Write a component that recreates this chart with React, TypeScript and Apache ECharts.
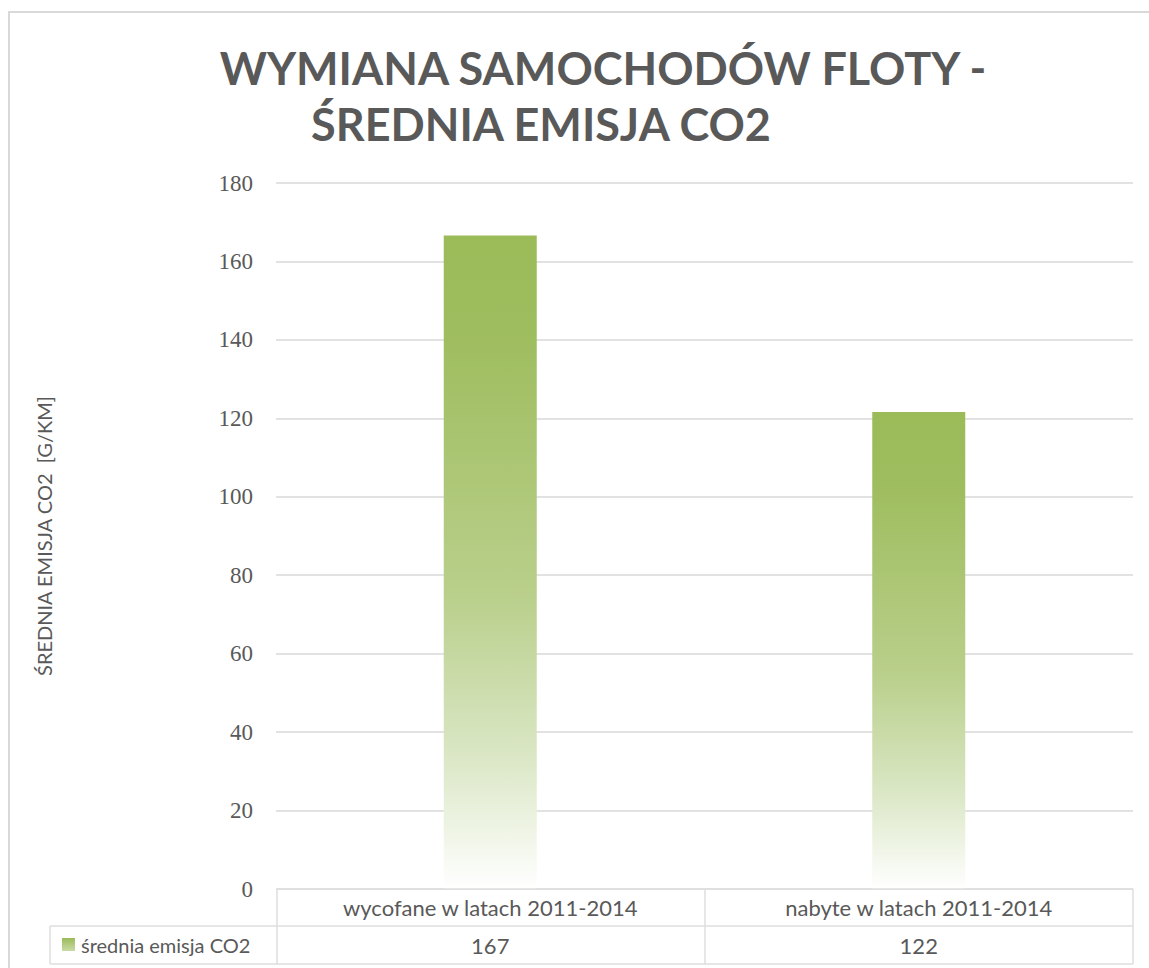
import { useEffect, useRef } from "react";
import * as echarts from "echarts";

const titleLines = ["WYMIANA SAMOCHODÓW FLOTY -", "ŚREDNIA EMISJA CO2"];
const categories = ["wycofane w latach 2011-2014", "nabyte w latach 2011-2014"];
const seriesName = "średnia emisja CO2";
const values = [166.6, 121.6];
const tableValues = ["167", "122"];
const yMin = 0;
const yMax = 180;
const yInterval = 20;
const yAxisName = "ŚREDNIA EMISJA CO2  [G/KM]";

const TXT = "#595959";
const GRID = "#d9d9d9";
const TABLE = "#dedede";

export default function App() {
  const ref = useRef<HTMLDivElement>(null);
  useEffect(() => {
    if (!ref.current) return;
    const chart = echarts.init(ref.current, undefined, { renderer: "svg" });
    const barGradient = new echarts.graphic.LinearGradient(0, 0, 0, 1, [
      { offset: 0, color: "#9bbb59" },
      { offset: 0.15, color: "#9ebd5e" },
      { offset: 0.55, color: "#b9cf8b" },
      { offset: 0.8, color: "#dbe7c6" },
      { offset: 1, color: "#ffffff" },
    ]);
    const tableLines = [
      [277, 889, 1133, 889],
      [50, 926, 1133, 926],
      [50, 964, 1133, 964],
      [277, 889, 277, 964],
      [705, 889, 705, 964],
      [1133, 889, 1133, 964],
      [50, 926, 50, 964],
    ];
    chart.setOption({
      animation: false,
      backgroundColor: "#ffffff",
      grid: { left: 276, right: 16, top: 183, bottom: 79, containLabel: false },
      xAxis: [
        {
          type: "category",
          data: categories,
          axisLine: { show: false },
          axisTick: { show: false },
          axisLabel: {
            color: TXT,
            fontFamily: "Lato",
            fontSize: 22,
            margin: 0,
            lineHeight: 37,
            verticalAlign: "top",
            interval: 0,
          },
        },
        {
          type: "category",
          position: "bottom",
          offset: 37,
          data: tableValues,
          axisLine: { show: false },
          axisTick: { show: false },
          axisLabel: {
            color: TXT,
            fontFamily: "Lato",
            fontSize: 22,
            margin: 0,
            lineHeight: 38,
            verticalAlign: "top",
            interval: 0,
          },
        },
      ],
      yAxis: {
        type: "value",
        min: yMin,
        max: yMax,
        interval: yInterval,
        name: yAxisName,
        nameLocation: "middle",
        nameGap: 222,
        nameRotate: 90,
        nameTextStyle: { color: TXT, fontFamily: "Lato", fontSize: 20 },
        axisLine: { show: false },
        axisTick: { show: false },
        axisLabel: {
          color: TXT,
          fontFamily: "Liberation Serif",
          fontSize: 23,
          margin: 23,
        },
        splitLine: { lineStyle: { color: GRID, width: 1.5 } },
      },
      series: [
        {
          name: seriesName,
          type: "bar",
          data: values,
          barWidth: 93,
          itemStyle: { color: barGradient },
        },
      ],
      graphic: [
        {
          type: "rect",
          z: -10,
          shape: { x: 9, y: 12, width: 1300, height: 1100 },
          style: { fill: "none", stroke: GRID, lineWidth: 2 },
        },
        {
          type: "text",
          x: 603,
          y: 68,
          style: {
            text: titleLines[0],
            fill: TXT,
            fontFamily: "Lato",
            fontWeight: "bold",
            fontSize: 45,
            align: "center",
            verticalAlign: "middle",
          },
        },
        {
          type: "text",
          x: 541,
          y: 124,
          style: {
            text: titleLines[1],
            fill: TXT,
            fontFamily: "Lato",
            fontWeight: "bold",
            fontSize: 45,
            align: "center",
            verticalAlign: "middle",
          },
        },
        ...tableLines.map((l) => ({
          type: "line",
          shape: { x1: l[0], y1: l[1], x2: l[2], y2: l[3] },
          style: { stroke: TABLE, lineWidth: 1.5 },
          z: 10,
        })),
        {
          type: "rect",
          shape: { x: 62, y: 938, width: 13, height: 13 },
          style: {
            fill: new echarts.graphic.LinearGradient(0, 0, 0, 1, [
              { offset: 0, color: "#9bbb59" },
              { offset: 1, color: "#c9dba6" },
            ]),
          },
        },
        {
          type: "text",
          x: 81,
          y: 945,
          style: {
            text: seriesName,
            fill: TXT,
            fontFamily: "Lato",
            fontSize: 20,
            align: "left",
            verticalAlign: "middle",
          },
        },
      ],
    });
    return () => chart.dispose();
  }, []);
  return (
    <div
      ref={ref}
      style={{ position: "absolute", left: 0, top: 0, width: 1149, height: 968 }}
    />
  );
}
